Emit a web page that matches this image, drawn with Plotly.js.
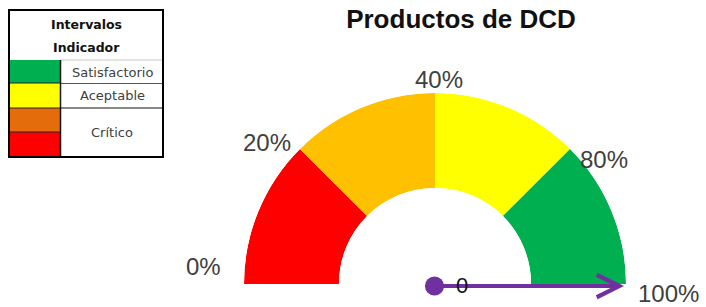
<!DOCTYPE html>
<html>
<head>
<meta charset="utf-8">
<script src="https://cdn.plot.ly/plotly-3.0.1.min.js"></script>
<style>
  html, body { margin: 0; padding: 0; background: #fff; }
  #chart { width: 706px; height: 307px; }
</style>
</head>
<body>
<div id="chart"></div>
<script>
// ---------- data ----------
const chartTitle = 'Productos de DCD';
const tickValues = [0, 20, 40, 80, 100];
const tickLabels = ['0%', '20%', '40%', '80%', '100%'];
const segmentColors = ['#FF0000', '#FFC000', '#FFFF00', '#00B050'];
const needleValue = 100;          // the needle points at 100%
const valueLabel = '0';

const legendHeader = ['Intervalos', 'Indicador'];
const legendSwatches = ['#00B050', '#FFFF00', '#E46C0A', '#FF0000'];
const legendLabels = ['Satisfactorio', 'Aceptable', 'Crítico'];

// ---------- geometry (style) ----------
const W = 706, H = 307;
const CX = 435, CY = 284, R = 191, HOLE = 0.503;
const px = x => x / W;
const py = y => 1 - y / H;

// tick index -> angle (each interval covers an equal quarter of the half circle)
const nSeg = tickValues.length - 1;
const angleOfIndex = i => 180 - (180 / nSeg) * i;
function angleOfValue(v) {
  for (let i = 0; i < nSeg; i++) {
    const a = tickValues[i], b = tickValues[i + 1];
    if (v >= a && v <= b) return angleOfIndex(i) + (angleOfIndex(i + 1) - angleOfIndex(i)) * (v - a) / (b - a);
  }
  return v < tickValues[0] ? 180 : 0;
}

const segTheta = [], segWidth = [], segR = [];
for (let i = 0; i < nSeg; i++) {
  segTheta.push((angleOfIndex(i) + angleOfIndex(i + 1)) / 2);
  segWidth.push(Math.abs(angleOfIndex(i) - angleOfIndex(i + 1)));
  segR.push(1);
}

const traces = [{
  type: 'barpolar',
  theta: segTheta,
  r: segR,
  width: segWidth,
  marker: { color: segmentColors, line: { width: 0 } },
  hoverinfo: 'skip',
  showlegend: false
}];

// tick label centre positions (pixels) – style
const tickLabelPos = [[203, 266], [267, 142], [439, 79], [604, 159], [668, 293]];

const annotations = [];
const labelFont = { family: 'Liberation Sans, Arial, sans-serif', size: 24, color: '#404040' };
tickLabels.forEach((t, i) => {
  annotations.push({
    xref: 'paper', yref: 'paper',
    x: px(tickLabelPos[i][0]), y: py(tickLabelPos[i][1]),
    xanchor: 'center', yanchor: 'middle',
    text: t, showarrow: false, font: labelFont
  });
});

// needle
const NY = CY + 2;
const na = angleOfValue(needleValue) * Math.PI / 180;
const NR = R - 2;
const tipX = CX + NR * Math.cos(na), tipY = NY - NR * Math.sin(na);
annotations.push({
  xref: 'paper', yref: 'paper',
  x: px(tipX), y: py(tipY),
  ax: CX - 2 - tipX, ay: NY - tipY,
  text: '', showarrow: true,
  arrowside: 'end+start',
  arrowhead: 5, arrowsize: 1.1,
  startarrowhead: 6, startarrowsize: 1.2,
  arrowwidth: 4, arrowcolor: '#7030A0',
  standoff: 0, startstandoff: 0
});
annotations.push({
  xref: 'paper', yref: 'paper',
  x: px(462), y: py(285), xanchor: 'center', yanchor: 'middle',
  text: valueLabel, showarrow: false,
  font: { family: 'Liberation Sans, Arial, sans-serif', size: 22, color: '#111111' }
});

// ---------- legend table (shapes + text) ----------
const shapes = [];
const rowEdges = [60, 83, 108, 132, 157];
const L = 9, M = 60.5, Rt = 163, T = 10;
legendSwatches.forEach((c, i) => {
  shapes.push({ type: 'rect', xref: 'paper', yref: 'paper',
    x0: px(L), x1: px(M), y0: py(rowEdges[i]), y1: py(rowEdges[i + 1]),
    fillcolor: c, line: { width: 0 }, layer: 'above' });
});
function hline(y, x0, x1, color, w) {
  shapes.push({ type: 'line', xref: 'paper', yref: 'paper',
    x0: px(x0), x1: px(x1), y0: py(y), y1: py(y), line: { color: color, width: w } });
}
hline(60, M, Rt, '#c8c8c8', 1);
hline(83, L, M, '#222', 1);
hline(108, L, M, '#222', 1);
hline(132, L, M, '#222', 1);
hline(83.5, M, Rt, '#555', 1);
hline(108, M, Rt, '#111', 1.2);
shapes.push({ type: 'line', xref: 'paper', yref: 'paper',
  x0: px(M), x1: px(M), y0: py(60), y1: py(157), line: { color: '#111', width: 1.5 } });
shapes.push({ type: 'rect', xref: 'paper', yref: 'paper',
  x0: px(L), x1: px(Rt), y0: py(157), y1: py(T),
  line: { color: '#000', width: 2 }, fillcolor: 'rgba(0,0,0,0)' });

const headerFont = { family: 'DejaVu Sans, sans-serif', size: 12.5, color: '#111' };
annotations.push({ xref: 'paper', yref: 'paper', x: px(86), y: py(24), xanchor: 'center', yanchor: 'middle',
  text: '<b>' + legendHeader[0] + '</b>', showarrow: false, font: headerFont });
annotations.push({ xref: 'paper', yref: 'paper', x: px(86), y: py(47), xanchor: 'center', yanchor: 'middle',
  text: '<b>' + legendHeader[1] + '</b>', showarrow: false, font: headerFont });
const legFont = { family: 'DejaVu Sans, sans-serif', size: 13, color: '#404040' };
const legendLabelY = [72, 96, 132];
legendLabels.forEach((t, i) => {
  annotations.push({ xref: 'paper', yref: 'paper', x: px(112), y: py(legendLabelY[i]),
    xanchor: 'center', yanchor: 'middle', text: t, showarrow: false, font: legFont });
});

const layout = {
  width: W, height: H,
  margin: { l: 0, r: 0, t: 0, b: 0 },
  paper_bgcolor: '#ffffff',
  showlegend: false,
  title: {
    text: '<b>' + chartTitle + '</b>',
    x: px(461), xanchor: 'center',
    y: py(19), yanchor: 'middle',
    font: { family: 'Liberation Sans, Arial, sans-serif', size: 26, color: '#111111' }
  },
  polar: {
    domain: { x: [px(CX - R), px(CX + R)], y: [py(CY), py(CY - R)] },
    sector: [0, 180],
    hole: HOLE,
    bgcolor: 'rgba(0,0,0,0)',
    radialaxis: { visible: false, range: [0, 1] },
    angularaxis: { visible: false, rotation: 0, direction: 'counterclockwise' }
  },
  annotations: annotations,
  shapes: shapes
};

Plotly.newPlot('chart', traces, layout, { staticPlot: true, displayModeBar: false });
</script>
</body>
</html>
